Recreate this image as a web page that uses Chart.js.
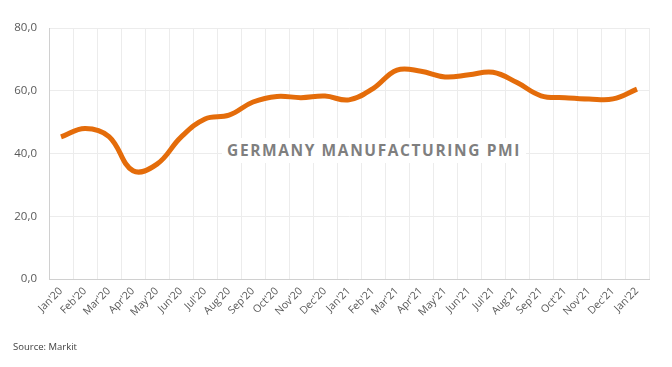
<!DOCTYPE html>
<html>
<head>
<meta charset="utf-8">
<script src="https://cdn.jsdelivr.net/npm/chart.js@4/dist/chart.umd.min.js"></script>
<style>
  html, body { margin: 0; padding: 0; background: #ffffff; }
  #wrap { position: relative; width: 672px; height: 367px; overflow: hidden; }
  canvas { position: absolute; left: 0; top: 0; }
  #title {
    position: absolute; left: 222px; top: 138px; width: 304px; height: 25px;
    background: #ffffff; color: #7f7f7f; font-family: "Open Sans", sans-serif;
    font-weight: bold; font-size: 15.5px; letter-spacing: 1.6px; line-height: 25px;
    text-align: center; white-space: nowrap;
  }
  #source {
    position: absolute; left: 13px; top: 340px; color: #404040;
    font-family: "Open Sans", sans-serif; font-size: 9.5px;
  }
</style>
</head>
<body>
<div id="wrap">
  <canvas id="c" width="672" height="367"></canvas>
  <div id="title">GERMANY MANUFACTURING PMI</div>
  <div id="source">Source: Markit</div>
</div>
<script>
const months = ["Jan'20","Feb'20","Mar'20","Apr'20","May'20","Jun'20","Jul'20","Aug'20","Sep'20","Oct'20","Nov'20","Dec'20",
                "Jan'21","Feb'21","Mar'21","Apr'21","May'21","Jun'21","Jul'21","Aug'21","Sep'21","Oct'21","Nov'21","Dec'21","Jan'22"];
const pmiValues = [45.3,48.0,45.4,34.5,36.6,45.2,51.0,52.2,56.4,58.2,57.8,58.3,
                   57.1,60.7,66.6,66.2,64.4,65.1,65.9,62.6,58.4,57.8,57.4,57.4,60.5];
const yTicks = [0,20,40,60,80];

const ctx = document.getElementById('c').getContext('2d');
new Chart(ctx, {
  type: 'line',
  data: {
    labels: months,
    datasets: [{
      data: pmiValues,
      borderColor: '#E46C0A',
      borderWidth: 5,
      pointRadius: 0,
      tension: 0.4,
      fill: false,
      borderCapStyle: 'butt'
    }]
  },
  options: {
    responsive: false,
    animation: false,
    devicePixelRatio: 1,
    layout: { padding: { left: 0, top: 28, right: 23, bottom: 0 } },
    plugins: { legend: { display: false }, tooltip: { enabled: false }, title: { display: false } },
    scales: {
      x: {
        offset: true,
        grid: { offset: true, color: '#ececec', drawTicks: false, lineWidth: 1 },
        border: { color: '#d0d0d0', width: 1 },
        ticks: {
          minRotation: 45, maxRotation: 45, autoSkip: false, padding: 6,
          color: '#595959', font: { family: 'Open Sans', size: 10.5 }
        },
        afterFit: s => { s.height = 88; }
      },
      y: {
        min: 0, max: 80,
        afterBuildTicks: s => { s.ticks = yTicks.map(v => ({ value: v })); },
        grid: { color: '#ececec', drawTicks: false },
        border: { color: '#d0d0d0', width: 1 },
        ticks: {
          padding: 12, color: '#595959', font: { family: 'Open Sans', size: 11.5 },
          callback: v => v.toFixed(1).replace('.', ',')
        },
        afterFit: s => { s.width = 49; }
      }
    }
  }
});
</script>
</body>
</html>
